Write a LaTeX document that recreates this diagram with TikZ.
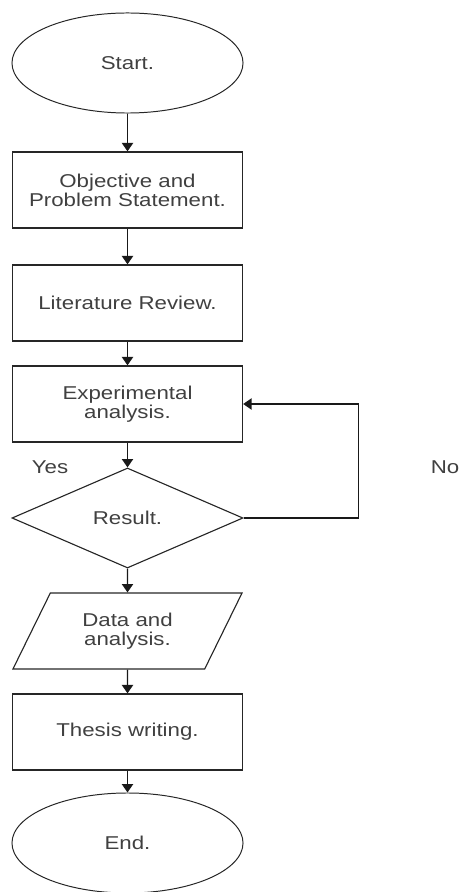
\documentclass[tikz,border=0pt]{standalone}
\usepackage{fontspec}
\newfontfamily\flowfont[FakeStretch=1.2]{Liberation Sans}
\usepackage{tikz}
\usetikzlibrary{arrows.meta, positioning, shapes.geometric}

\begin{document}
\begin{tikzpicture}[
    x=0.025cm, y=-0.025cm,
    txt/.style={font=\flowfont\fontsize{13.2pt}{13.4pt}\selectfont, text=black!75, align=center},
    box/.style={txt, draw=black!85, line width=0.9pt, minimum width=5.75cm, minimum height=1.9cm},
    term/.style={txt, draw=black!85, line width=0.7pt, ellipse, minimum width=5.775cm, minimum height=2.5cm, inner sep=0pt},
    cond/.style={txt, draw=black!85, line width=0.8pt, diamond, aspect=2.31, minimum width=5.775cm, minimum height=2.5cm, inner sep=0pt},
    io/.style={txt, draw=black!85, line width=0.8pt, trapezium, trapezium left angle=58.8, trapezium right angle=121.2, trapezium stretches=true, minimum width=5.775cm, minimum height=1.9cm, inner sep=0pt},
    arr/.style={draw=black!90, line width=1pt, -{Stealth[length=2.1mm, width=2.8mm, inset=0pt]}}
]
\useasboundingbox (0,0) rectangle (462,892);

% Terminals
\node[term] (start) at (127.5, 63) {Start.};
\node[term] (stop) at (127.5, 843) {End.};

% Steps
\node[box] (obj) at (127.5, 190) {Objective and\\Problem Statement.};
\node[box] (lit) at (127.5, 303) {Literature Review.};
\node[box] (exp) at (127.5, 404) {Experimental\\analysis.};
\node[cond] (res) at (127.5, 518) {Result.};
\node[io] (data) at (127.5, 631) {Data and\\analysis.};
\node[box] (thesis) at (127.5, 732) {Thesis writing.};

% Main flow
\draw[arr] (start) -- (obj);
\draw[arr] (obj) -- (lit);
\draw[arr] (lit) -- (exp);
\draw[arr] (exp) -- (res);
\draw[arr] (res) -- (data);
\draw[arr] (data) -- (thesis);
\draw[arr] (thesis) -- (stop);

% Loop back
\draw[arr] (res.east) -- ++(115,0) |- (exp.east);

% Branch labels
\node[txt] (yes) at (50, 467) {Yes};
\node[txt] (no) at (445, 467) {No};

\end{tikzpicture}
\end{document}
